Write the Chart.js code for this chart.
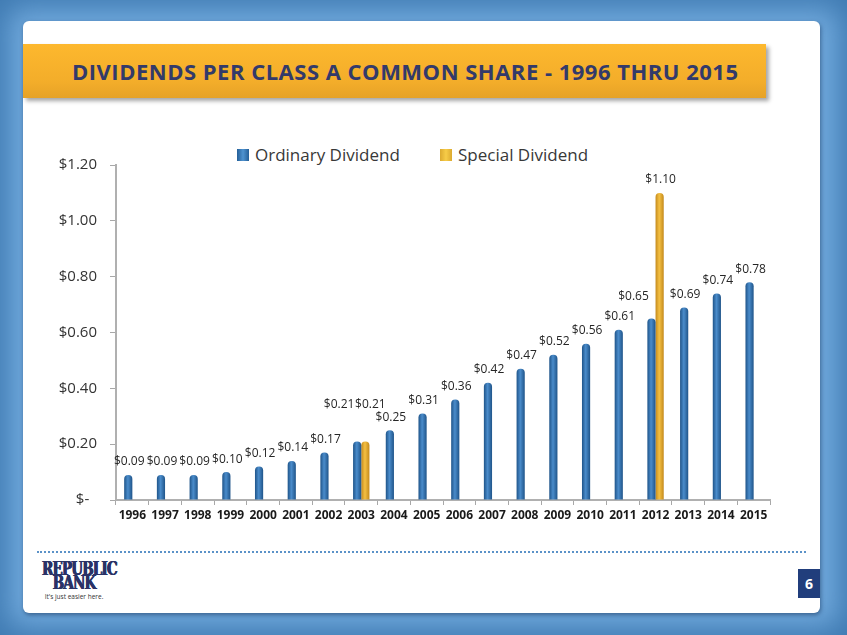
<!DOCTYPE html>
<html>
<head>
<meta charset="utf-8">
<script src="https://cdn.jsdelivr.net/npm/chart.js@4.4.0/dist/chart.umd.min.js"></script>
<style>
  html, body { margin: 0; padding: 0; }
  body {
    width: 847px; height: 635px; position: relative; overflow: hidden;
    background: #72abde;
    box-shadow: inset 0 0 30px 8px #3d78b0;
    font-family: "Open Sans", sans-serif;
  }
  .card {
    position: absolute; left: 23px; top: 21px; width: 797px; height: 592px;
    background: #fff; border-radius: 6px;
    box-shadow: 1px 2px 4px rgba(20, 50, 90, 0.55);
  }
  .banner {
    position: absolute; left: 23px; top: 44px; width: 743px; height: 54px;
    background: linear-gradient(#fdb82e, #f3ad2a 70%, #e6a227);
    box-shadow: 3px 3px 4px rgba(0, 0, 0, 0.35);
  }
  .banner h1 {
    margin: 0; position: absolute; left: 49px; top: 12px;
    font: bold 22px "Open Sans", sans-serif; color: #333a6a;
    white-space: nowrap; letter-spacing: 0.5px;
  }
  .legend {
    position: absolute; top: 143px; left: 237px; height: 24px;
    font-size: 17px; color: #383838; white-space: nowrap;
  }
  .legend span { position: absolute; top: 0; line-height: 24px; }
  .legend i {
    position: absolute; top: 6px; width: 12px; height: 12px;
  }
  .dots {
    position: absolute; left: 37px; top: 551px; width: 769px;
    border-top: 2px dotted #5b92c8;
  }
  .logo { position: absolute; left: 34px; top: 561px; width: 80px; color: #2a3266; text-align: center; }
  .logo b {
    display: block; font: bold 19px/14px "DejaVu Serif", serif; font-stretch: condensed;
    letter-spacing: -1.2px; transform: scaleX(0.8); transform-origin: center;
    text-shadow: 0.5px 0 0 #2a3266, -0.5px 0 0 #2a3266;
  }
  .logo small { display: block; font-size: 6.5px; color: #333; margin-top: 3px; white-space: nowrap; }
  .page {
    position: absolute; left: 798px; top: 569px; width: 22px; height: 29px;
    background: #213e7c; color: #fff; font: bold 14px/29px "Open Sans", sans-serif; text-align: center;
  }
  #chart { position: absolute; left: 30px; top: 135px; }
</style>
</head>
<body>
<div class="card"></div>
<div class="banner"><h1>DIVIDENDS PER CLASS A COMMON SHARE - 1996 THRU 2015</h1></div>
<div class="legend">
  <i style="left:0;background:linear-gradient(90deg,#245f98,#4f93d0,#245f98)"></i>
  <span style="left:18px">Ordinary Dividend</span>
  <i style="left:203px;background:linear-gradient(90deg,#dcaa30,#f7cc48,#dcaa30)"></i>
  <span style="left:221px">Special Dividend</span>
</div>
<canvas id="chart" width="760" height="395"></canvas>
<div class="dots"></div>
<div class="logo"><b>REPUBLIC<br>BANK</b><small>It's just easier here.</small></div>
<div class="page">6</div>

<script>
const years = ["1996", "1997", "1998", "1999", "2000", "2001", "2002", "2003", "2004", "2005",
               "2006", "2007", "2008", "2009", "2010", "2011", "2012", "2013", "2014", "2015"];
const ordinary = [0.09, 0.09, 0.09, 0.10, 0.12, 0.14, 0.17, 0.21, 0.25, 0.31,
                  0.36, 0.42, 0.47, 0.52, 0.56, 0.61, 0.65, 0.69, 0.74, 0.78];
const special = [null, null, null, null, null, null, null, 0.21, null, null,
                 null, null, null, null, null, null, 1.10, null, null, null];
const yTicks = [0, 0.2, 0.4, 0.6, 0.8, 1.0, 1.2];

// label tweaks where two bars share a year
const labelNudge = {
  "0-7": [-19, -24], "1-7": [4, -24], "0-16": [-19, -9]
};

function barFill(edge, mid) {
  return function (c) {
    const el = c.element;
    if (!el || !isFinite(el.x) || !el.width) return mid;
    const g = c.chart.ctx.createLinearGradient(el.x - el.width / 2, 0, el.x + el.width / 2, 0);
    g.addColorStop(0, edge);
    g.addColorStop(0.45, mid);
    g.addColorStop(1, edge);
    return g;
  };
}

const valueLabels = {
  id: "valueLabels",
  afterDatasetsDraw(chart) {
    const ctx = chart.ctx;
    ctx.save();
    ctx.font = "500 12px 'Open Sans'";
    ctx.fillStyle = "#262626";
    ctx.textAlign = "center";
    ctx.textBaseline = "middle";
    chart.data.datasets.forEach(function (ds, d) {
      chart.getDatasetMeta(d).data.forEach(function (bar, i) {
        const v = ds.data[i];
        if (v == null) return;
        const n = labelNudge[d + "-" + i] || [0, 0];
        ctx.fillText("$" + v.toFixed(2), bar.x + 1 + n[0], bar.y - 13 + n[1]);
      });
    });
    ctx.restore();
  }
};

const chart = new Chart(document.getElementById("chart"), {
  type: "bar",
  data: {
    labels: years,
    datasets: [{
      label: "Ordinary Dividend",
      data: ordinary,
      backgroundColor: barFill("#1f5489", "#4a8ccb"),
      borderRadius: { topLeft: 4, topRight: 4 },
      borderSkipped: "bottom"
    }, {
      label: "Special Dividend",
      data: special,
      backgroundColor: barFill("#c48a1c", "#f4c043"),
      borderRadius: { topLeft: 4, topRight: 4 },
      borderSkipped: "bottom"
    }]
  },
  options: {
    responsive: false,
    animation: false,
    layout: { padding: { left: 0, right: 20, top: 30, bottom: 0 } },
    plugins: { legend: { display: false }, tooltip: { enabled: false } },
    datasets: { bar: { categoryPercentage: 0.5, barPercentage: 1 } },
    scales: {
      x: {
        grid: { drawOnChartArea: false, tickLength: 5, color: "#a8a8a8", lineWidth: 1 },
        border: { color: "#b0b0b0", width: 2 },
        ticks: { color: "#1a1a1a", font: { family: "Open Sans", size: 12, weight: "bold" }, padding: 3, maxRotation: 0 },
        afterFit: function (s) { s.height = 30; }
      },
      y: {
        min: 0, max: 1.2,
        afterBuildTicks: function (s) { s.ticks = yTicks.map(function (v) { return { value: v }; }); },
        grid: { drawOnChartArea: false, tickLength: 6, color: "#a8a8a8", lineWidth: 1 },
        border: { color: "#b0b0b0", width: 2 },
        ticks: {
          color: "#333", font: { family: "Open Sans", size: 15 }, padding: 13,
          callback: function (v) { return v === 0 ? "$-  " : "$" + v.toFixed(2); }
        },
        afterFit: function (s) { s.width = 86; }
      }
    }
  },
  plugins: [valueLabels]
});
chart.update();
</script>
</body>
</html>
